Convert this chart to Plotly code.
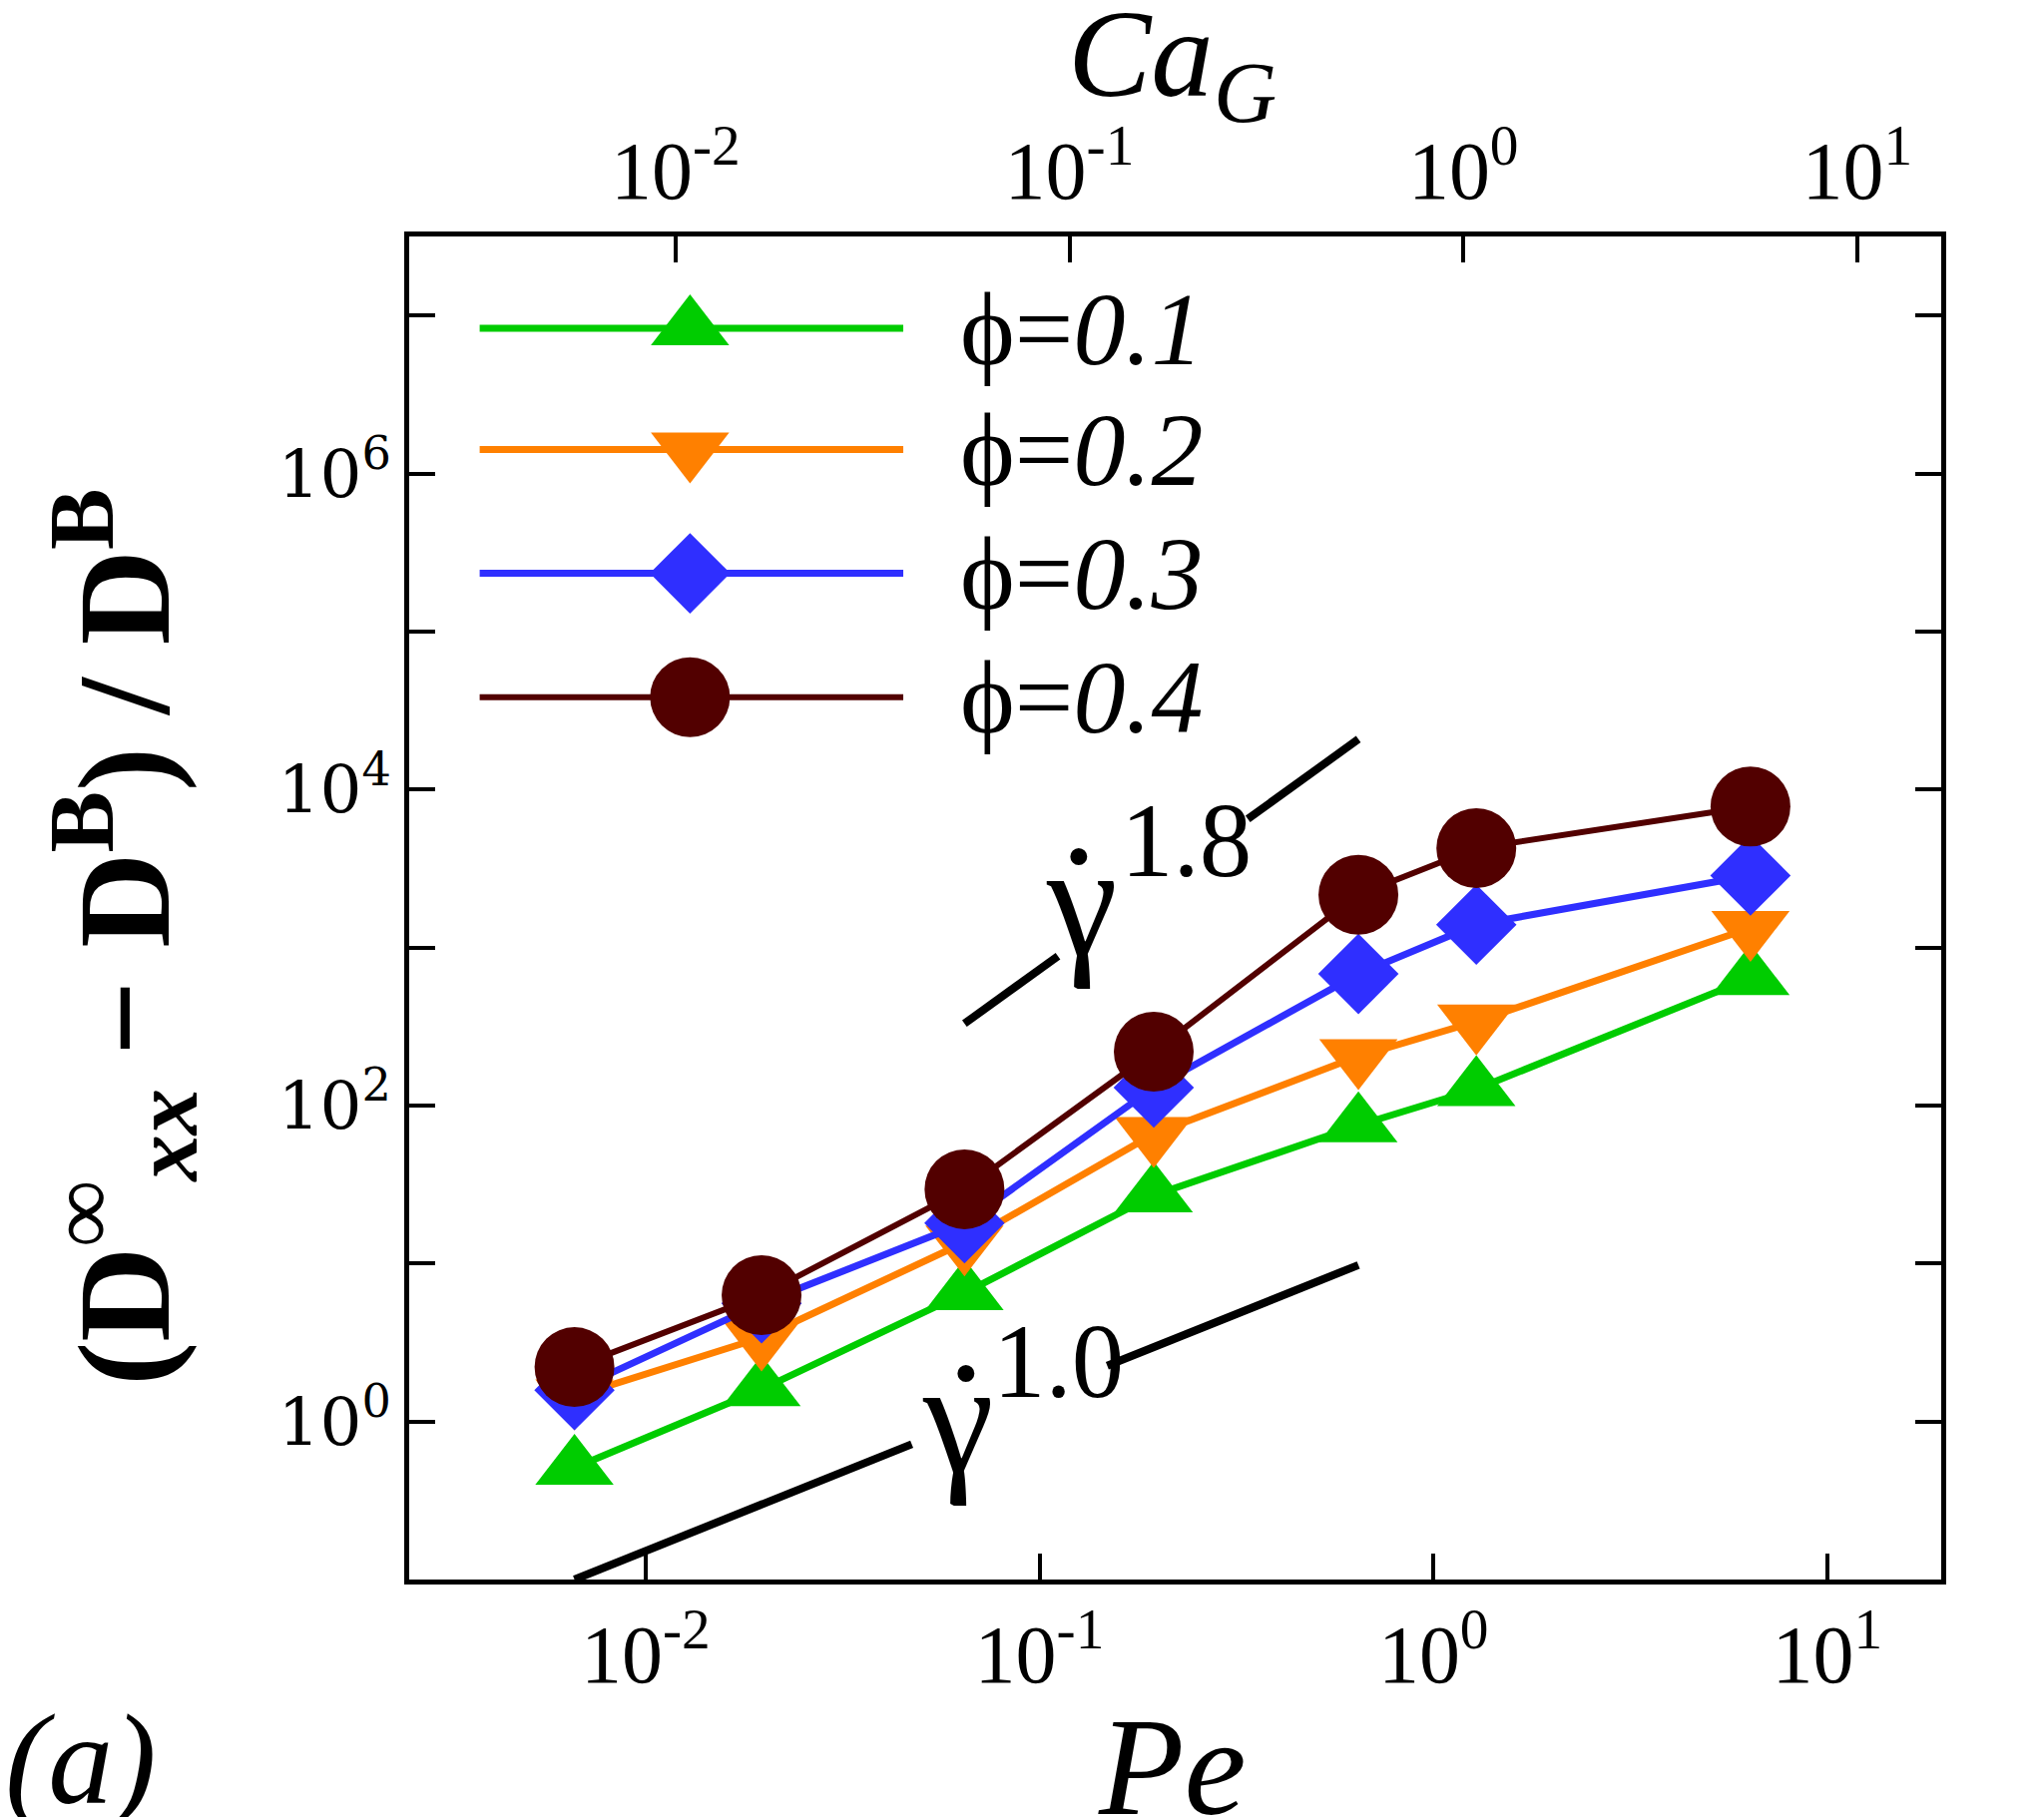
import plotly.graph_objects as go

# ---------------- data ----------------
pe = [0.0066, 0.0197, 0.0645, 0.195, 0.645, 1.285, 6.38]
phi_labels = ["0.1", "0.2", "0.3", "0.4"]
d_phi01 = [0.51, 1.6, 6.5, 27, 75, 127, 640]
d_phi02 = [1.44, 3.4, 13.6, 66, 205, 340, 1330]
d_phi03 = [1.58, 5.6, 18, 130, 680, 1395, 2850]
d_phi04 = [2.21, 6.3, 29.5, 219, 2157, 4250, 7800]

# power-law guide lines: x end points, value at first point, exponent, label gap (x range)
guide1_x = [0.0066, 0.645]
guide1_y0 = 0.1
guide1_exp = 1.0
guide1_gap = [0.0474, 0.1486]
guide2_x = [0.0645, 0.645]
guide2_y0 = 330
guide2_exp = 1.8
guide2_gap = [0.1114, 0.338]

x_ticks = [0.01, 0.1, 1, 10]
x_ticktext = ["10<sup>-2</sup>", "10<sup>-1</sup>", "10<sup>0</sup>", "10<sup>1</sup>"]
y_ticks = [1, 100, 1e4, 1e6]
y_ticktext = ["10<sup>0</sup>", "10<sup>2</sup>", "10<sup>4</sup>", "10<sup>6</sup>"]
y_minor_ticks = [10, 1e3, 1e5, 1e7]

series = [d_phi01, d_phi02, d_phi03, d_phi04]
colors = ["#00CC00", "#FF8000", "#2F2FFF", "#520000"]
symbols = ["triangle-up", "triangle-down", "diamond", "circle"]
msizes = [68, 68, 62, 80]
lwidths = [7, 7, 7, 6]

FONT = "Liberation Serif"

fig = go.Figure()

# guide lines (broken where the label sits)
for gx, gy0, ge, gap in [(guide1_x, guide1_y0, guide1_exp, guide1_gap),
                         (guide2_x, guide2_y0, guide2_exp, guide2_gap)]:
    xs = [gx[0], gap[0], None, gap[1], gx[1]]
    ys = [None if x is None else gy0 * (x / gx[0]) ** ge for x in xs]
    fig.add_trace(go.Scatter(x=xs, y=ys, mode="lines", connectgaps=False,
                             line=dict(color="black", width=8),
                             showlegend=False, hoverinfo="skip"))

# data series
for ys, c, s, ms, lw in zip(series, colors, symbols, msizes, lwidths):
    fig.add_trace(go.Scatter(x=pe, y=ys, mode="lines+markers",
                             line=dict(color=c, width=lw),
                             marker=dict(symbol=s, size=ms, color=c, line=dict(width=0)),
                             showlegend=False))

# dummy trace for top axis
fig.add_trace(go.Scatter(x=[0.01, 10], y=[1, 1], xaxis="x2", yaxis="y", mode="markers",
                         marker=dict(opacity=0), showlegend=False, hoverinfo="skip"))

# custom legend on helper axes (fractions of plot area)
leg_rows = [0.9316, 0.8413, 0.7492, 0.657]
leg_x0, leg_xm, leg_x1 = 0.046, 0.1833, 0.3225
for r, c, s, ms, lw in zip(leg_rows, colors, symbols, msizes, lwidths):
    fig.add_trace(go.Scatter(x=[leg_x0, leg_x1], y=[r, r], xaxis="x3", yaxis="y3",
                             mode="lines", line=dict(color=c, width=lw),
                             showlegend=False, hoverinfo="skip"))
    fig.add_trace(go.Scatter(x=[leg_xm], y=[r], xaxis="x3", yaxis="y3",
                             mode="markers", marker=dict(symbol=s, size=ms, color=c),
                             showlegend=False, hoverinfo="skip"))

annotations = []
for r, lab in zip(leg_rows, phi_labels):
    annotations.append(dict(x=0.358, y=r, xref="paper", yref="paper", xanchor="left",
                            yanchor="middle", showarrow=False,
                            text="ϕ=<i>" + lab + "</i>",
                            font=dict(family=FONT, size=104, color="black")))


def gamma_label(xg, yg, xd, xe, ye, exp_text):
    annotations.append(dict(x=xg, y=yg, xref="paper", yref="paper", showarrow=False,
                            xanchor="center", yanchor="middle", text="γ",
                            font=dict(family=FONT, size=160, color="black")))
    annotations.append(dict(x=xd, y=yg, xref="paper", yref="paper", showarrow=False,
                            xanchor="center", yanchor="middle", text="˙",
                            font=dict(family=FONT, size=160, color="black")))
    annotations.append(dict(x=xe, y=ye, xref="paper", yref="paper", showarrow=False,
                            xanchor="center", yanchor="middle", text=exp_text,
                            font=dict(family=FONT, size=105, color="black")))


gamma_label(0.3583, 0.1204, 0.3635, 0.4238, 0.162, "1.0")
gamma_label(0.439, 0.5052, 0.437, 0.5072, 0.5505, "1.8")

# axis titles
annotations += [
    dict(x=0.498, y=1.129, xref="paper", yref="paper", showarrow=False,
         xanchor="center", yanchor="middle",
         text="<i>Ca<sub>G</sub></i>", font=dict(family=FONT, size=125, color="black")),
    dict(x=0.498, y=-0.139, xref="paper", yref="paper", showarrow=False,
         xanchor="center", yanchor="middle",
         text="<i>Pe</i>", font=dict(family=FONT, size=140, color="black")),
    dict(x=-0.2143, y=-0.1337, xref="paper", yref="paper", showarrow=False,
         xanchor="center", yanchor="middle",
         text="<i>(a)</i>", font=dict(family=FONT, size=130, color="black")),
    dict(x=-0.1863, y=0.478, xref="paper", yref="paper", showarrow=False, textangle=-90,
         xanchor="center", yanchor="middle",
         text="<b>(D<sup>∞</sup><sub><i>xx</i></sub> − D<sup>B</sup>) / D<sup>B</sup></b>",
         font=dict(family=FONT, size=132, color="black")),
]

axis_common = dict(showgrid=False, zeroline=False, showline=True, linecolor="black",
                   linewidth=5, ticks="inside", ticklen=26, tickwidth=4, tickcolor="black")

fig.update_layout(
    width=2048, height=1821, autosize=False,
    margin=dict(l=410, r=103, t=237, b=238),
    paper_bgcolor="white", plot_bgcolor="white",
    showlegend=False,
    xaxis=dict(type="log", range=[-2.600, 1.289], tickvals=x_ticks, ticktext=x_ticktext,
               mirror=False, tickfont=dict(family=FONT, size=82, color="black"),
               **axis_common),
    xaxis2=dict(type="log", range=[-2.676, 1.213], overlaying="x", side="top", anchor="y",
                tickvals=x_ticks, ticktext=x_ticktext,
                tickfont=dict(family=FONT, size=82, color="black"), **axis_common),
    yaxis=dict(type="log", range=[-1, 7.5], tickvals=y_ticks, ticktext=y_ticktext,
               mirror="ticks", tickfont=dict(family="DejaVu Serif", size=66, color="black"),
               minor=dict(tickvals=y_minor_ticks, ticks="inside", ticklen=26, tickwidth=4,
                          tickcolor="black", showgrid=False),
               **axis_common),
    xaxis3=dict(range=[0, 1], overlaying="x", visible=False, anchor="y3"),
    yaxis3=dict(range=[0, 1], overlaying="y", visible=False, anchor="x3"),
    annotations=annotations,
)

fig.write_html("out.html")
